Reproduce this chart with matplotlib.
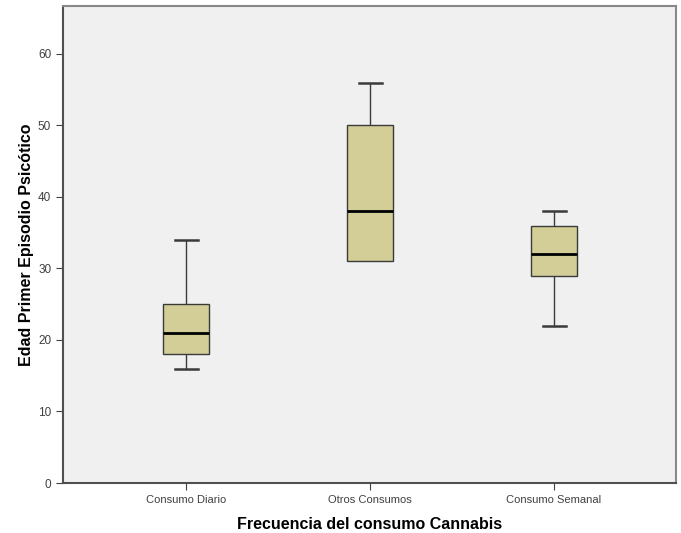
import matplotlib
matplotlib.use("Agg")
import matplotlib.pyplot as plt

categories = ["Consumo Diario", "Otros Consumos", "Consumo Semanal"]
whis_lo = [16, 31, 22]
q1 = [18, 31, 29]
median = [21, 38, 32]
q3 = [25, 50, 36]
whis_hi = [34, 56, 38]

plt.rcParams["font.family"] = ["Liberation Sans", "DejaVu Sans"]

W, H = 681, 533
fig = plt.figure(figsize=(W / 100, H / 100), dpi=100)
ax = fig.add_axes((63 / W, 50 / H, 613 / W, 477 / H))
ax.set_facecolor("#F0F0F0")

stats = [dict(label=c, whislo=lo, q1=a, med=m, q3=b, whishi=hi, fliers=[])
         for c, lo, a, m, b, hi in zip(categories, whis_lo, q1, median, q3, whis_hi)]
parts = ax.bxp(stats, positions=[1, 2, 3], widths=0.25, patch_artist=True, showfliers=False,
               boxprops=dict(facecolor="#D3CE97", edgecolor="#3a3a3a", lw=1.0),
               medianprops=dict(color="black", lw=2.0),
               whiskerprops=dict(color="#3a3a3a", lw=1.0),
               capprops=dict(color="#3a3a3a", lw=1.8), capwidths=0.125)
# no visible cap where the whisker collapses onto the box edge
for i, (lo, a) in enumerate(zip(whis_lo, q1)):
    if lo == a:
        parts["caps"][2 * i].set_visible(False)
for box in parts["boxes"]:
    box.set_zorder(3)
for med in parts["medians"]:
    med.set_zorder(4)

ax.set_xlim(1 - 123 / 184, 3 + 122 / 184)
ax.set_ylim(0, 66.7)
ax.set_yticks(range(0, 61, 10))
ax.tick_params(axis="both", direction="out", length=5, color="#404040",
               labelcolor="#404040", labelsize=8.5)
ax.tick_params(axis="x", labelsize=8)
for s in ("top", "right"):
    ax.spines[s].set_color("#888888")
    ax.spines[s].set_linewidth(1.5)
for s in ("left", "bottom"):
    ax.spines[s].set_color("#505050")
    ax.spines[s].set_linewidth(1.5)

ax.set_ylabel("Edad Primer Episodio Psicótico", fontsize=11.5, fontweight="bold", labelpad=3)
ax.set_xlabel("Frecuencia del consumo Cannabis", fontsize=11.5, fontweight="bold", labelpad=9)

fig.savefig("out.png", dpi=100)
